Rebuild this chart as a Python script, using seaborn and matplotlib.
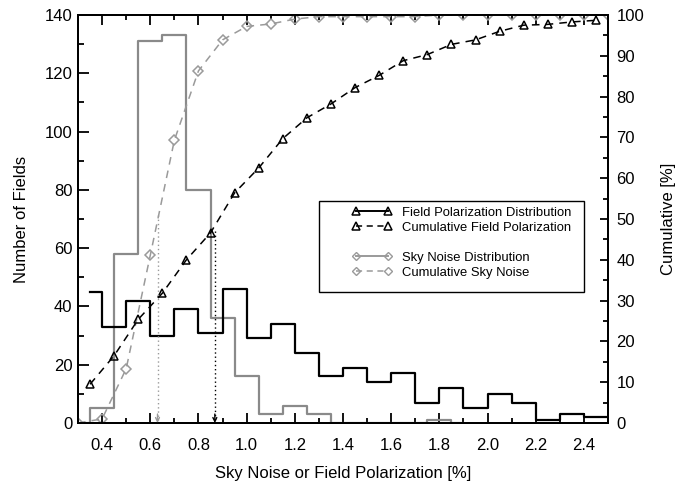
import numpy as np
import pandas as pd
import matplotlib
matplotlib.use("Agg")
import matplotlib.pyplot as plt
import seaborn as sns
from matplotlib.lines import Line2D
from matplotlib.patches import Rectangle
from matplotlib.ticker import MultipleLocator, FormatStrFormatter

# ---------------- data ----------------
field_x = [0.35, 0.45, 0.55, 0.65, 0.75, 0.85, 0.95, 1.05, 1.15, 1.25, 1.35, 1.45,
           1.55, 1.65, 1.75, 1.85, 1.95, 2.05, 2.15, 2.25, 2.35, 2.45, 2.55]
field_counts = [45, 33, 42, 30, 39, 31, 46, 29, 34, 24, 16, 19,
                14, 17, 7, 12, 5, 10, 7, 1, 3, 2, 2]
field_cum_x = [0.35, 0.45, 0.55, 0.65, 0.75, 0.85, 0.95, 1.05, 1.15, 1.25, 1.35,
               1.45, 1.55, 1.65, 1.75, 1.85, 1.95, 2.05, 2.15, 2.25, 2.35, 2.45]
field_cum = [9.5, 16.5, 25.4, 31.8, 40.0, 46.6, 56.4, 62.5, 69.7, 74.8, 78.2,
             82.2, 85.2, 88.8, 90.3, 92.8, 93.9, 96.0, 97.5, 97.7, 98.3, 98.7]

sky_x = [0.3, 0.4, 0.5, 0.6, 0.7, 0.8, 0.9, 1.0, 1.1, 1.2, 1.3, 1.4, 1.5,
         1.6, 1.7, 1.8, 1.9]
sky_counts = [0, 5, 58, 131, 133, 80, 36, 16, 3, 6, 3, 0, 0, 0, 0, 1, 0]
sky_cum_x = [0.3, 0.4, 0.5, 0.6, 0.7, 0.8, 0.9, 1.0, 1.1, 1.2, 1.3, 1.4, 1.5,
             1.6, 1.7, 1.8, 1.9, 2.0, 2.1, 2.2, 2.3, 2.4, 2.5]
sky_cum = [0.0, 1.0, 13.3, 41.1, 69.3, 86.3, 93.9, 97.2, 97.8, 99.0, 99.6, 99.6,
           99.6, 99.6, 99.6, 100, 100, 100, 100, 100, 100, 100, 100]

# medians (dotted arrows): x position and top (cumulative %)
sky_median = [0.63, 51.0]
field_median = [0.868, 47.0]

legend_labels = ["Field Polarization Distribution", "Cumulative Field Polarization",
                 "Sky Noise Distribution", "Cumulative Sky Noise"]

x_ticks = [0.4, 0.6, 0.8, 1.0, 1.2, 1.4, 1.6, 1.8, 2.0, 2.2, 2.4]

# ---------------- style ----------------
plt.rcParams["font.family"] = ["Liberation Sans", "DejaVu Sans"]
GRAY = "#8a8a8a"
LGRAY = "#9a9a9a"
FS = 12

fig = plt.figure(figsize=(6.85, 4.83), dpi=100)
ax = fig.add_axes([78 / 685, 1 - 423 / 483, 530 / 685, 408 / 483])
ax2 = ax.twinx()

# histograms (left axis)
sns.lineplot(x=sky_x, y=sky_counts, ax=ax, color=GRAY, lw=1.6,
             drawstyle="steps-mid", estimator=None, sort=False)
sns.lineplot(x=field_x, y=field_counts, ax=ax, color="black", lw=1.6,
             drawstyle="steps-mid", estimator=None, sort=False)

# cumulative curves (right axis)
sns.lineplot(x=sky_cum_x, y=sky_cum, ax=ax2, color=LGRAY, lw=1.1,
             linestyle=(0, (5, 4)), marker="D", markersize=4.6,
             markerfacecolor="none", markeredgecolor=LGRAY, markeredgewidth=1.1,
             estimator=None, sort=False)
sns.lineplot(x=field_cum_x, y=field_cum, ax=ax2, color="black", lw=1.1,
             linestyle=(0, (5, 4)), marker="^", markersize=6,
             markerfacecolor="none", markeredgecolor="black", markeredgewidth=1.1,
             estimator=None, sort=False)

# median dotted arrows
for (mx, mtop), col in [(sky_median, LGRAY), (field_median, "black")]:
    ax2.plot([mx, mx], [mtop, 0.8], linestyle=(0, (1, 2)), color=col, lw=1.0)
    ax2.annotate("", xy=(mx, 0), xytext=(mx, 2.2),
                 arrowprops=dict(arrowstyle="->", color=col, lw=1.0,
                                 mutation_scale=7, shrinkA=0, shrinkB=0))

# axes limits and ticks
ax.set_xlim(0.3, 2.5)
ax.set_ylim(0, 140)
ax2.set_ylim(0, 100)
ax.set_xticks(x_ticks)
ax.xaxis.set_major_formatter(FormatStrFormatter("%.1f"))
ax.xaxis.set_minor_locator(MultipleLocator(0.1))
ax.yaxis.set_major_locator(MultipleLocator(20))
ax.yaxis.set_minor_locator(MultipleLocator(10))
ax2.yaxis.set_major_locator(MultipleLocator(10))
ax2.yaxis.set_minor_locator(MultipleLocator(5))

ax.tick_params(axis="x", which="both", direction="in", top=True, bottom=True,
               labelsize=FS, pad=11, width=1.3)
ax.tick_params(axis="x", which="major", length=7.5)
ax.tick_params(axis="x", which="minor", length=3.5)
ax.tick_params(axis="y", which="both", direction="in", left=True, right=False,
               labelsize=FS, pad=4, width=1.3)
ax.tick_params(axis="y", which="major", length=8)
ax.tick_params(axis="y", which="minor", length=4)
ax2.tick_params(axis="y", which="both", direction="in", right=True, left=False,
                labelsize=FS, pad=6, width=1.3)
ax2.tick_params(axis="y", which="major", length=6)
ax2.tick_params(axis="y", which="minor", length=3.5)

for a in (ax, ax2):
    for s in a.spines.values():
        s.set_linewidth(1.4)

ax.set_xlabel("Sky Noise or Field Polarization [%]", fontsize=FS, labelpad=9)
ax.set_ylabel("Number of Fields", fontsize=FS, labelpad=11)
ax2.set_ylabel("Cumulative [%]", fontsize=FS, labelpad=12)

# legend box + entries
box = Rectangle((0.4547, 0.320), 0.5006, 0.224, transform=ax2.transAxes,
                facecolor="white", edgecolor="black", lw=1.0, zorder=5)
ax2.add_patch(box)

handles = [
    Line2D([], [], color="black", lw=1.4, marker="^", ms=5.5, mfc="none",
           mec="black", mew=1.1),
    Line2D([], [], color="black", lw=1.1, linestyle=(0, (4, 3)), marker="^", ms=5.5,
           mfc="none", mec="black", mew=1.1),
    Line2D([], [], color="none"),
    Line2D([], [], color=LGRAY, lw=1.4, marker="D", ms=4, mfc="none",
           mec=LGRAY, mew=1.0),
    Line2D([], [], color=LGRAY, lw=1.1, linestyle=(0, (4, 3)), marker="D", ms=4,
           mfc="none", mec=LGRAY, mew=1.0),
]
labels = [legend_labels[0], legend_labels[1], " ", legend_labels[2], legend_labels[3]]
leg = ax2.legend(handles, labels, loc="upper left", bbox_to_anchor=(0.517, 0.530),
                 frameon=False, fontsize=9.4, numpoints=2, handlelength=3.05,
                 handletextpad=0.8, labelspacing=0.22, borderpad=0,
                 borderaxespad=0)
leg.set_zorder(6)

fig.savefig("out.png", dpi=100)
